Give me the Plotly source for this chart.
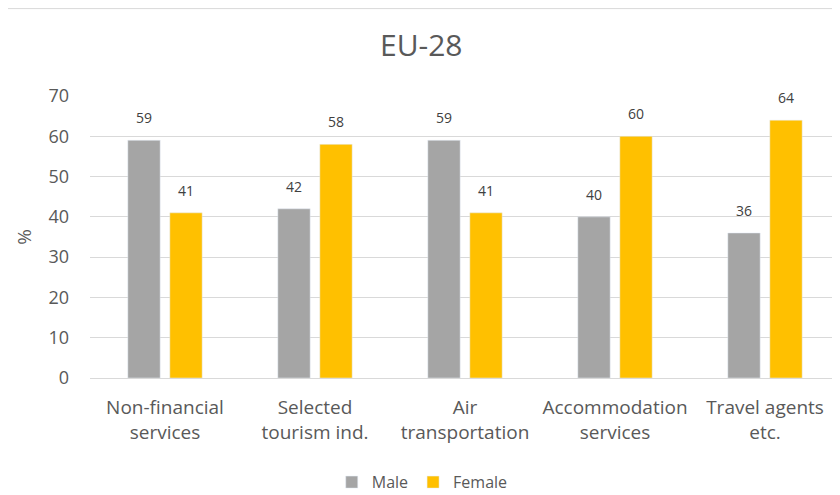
import plotly.graph_objects as go

categories = ["Non-financial<br>services", "Selected<br>tourism ind.", "Air<br>transportation",
              "Accommodation<br>services", "Travel agents<br>etc."]
male = [59, 42, 59, 40, 36]
female = [41, 58, 41, 60, 64]
y_ticks = [0, 10, 20, 30, 40, 50, 60, 70]

fig = go.Figure()
fig.add_trace(go.Bar(name="Male", x=categories, y=male, marker_color="#A5A5A5"))
fig.add_trace(go.Bar(name="Female", x=categories, y=female, marker_color="#FFC000"))

annotations = []
for series, shift in ((male, -21), (female, 21)):
    for cat, v in zip(categories, series):
        annotations.append(dict(x=cat, y=v, text=str(v), showarrow=False,
                                xshift=shift, yshift=11, yanchor="bottom",
                                font=dict(size=14, color="#404040")))

fig.update_layout(
    width=840, height=495,
    paper_bgcolor="white", plot_bgcolor="white",
    font=dict(family="Open Sans, sans-serif", color="#595959"),
    title=dict(text="EU-28", x=0.492, xanchor="center", y=0.925, yanchor="middle",
               font=dict(size=30, color="#595959")),
    margin=dict(l=82, r=8, t=88, b=125),
    barmode="group", bargap=0.44, bargroupgap=0.23,
    legend=dict(orientation="h", x=0.443, xanchor="center",
                yref="container", y=0.042, yanchor="middle",
                font=dict(size=16, color="#595959"), itemwidth=30),
    xaxis=dict(tickfont=dict(size=19, color="#595959"), showline=True, automargin=False,
               linecolor="#D9D9D9", ticks="", showgrid=False, ticklabelstandoff=12),
    yaxis=dict(range=[0, 70], tickvals=y_ticks, gridcolor="#D9D9D9", automargin=False,
               tickfont=dict(size=18, color="#595959"), zeroline=False,
               ticklabelstandoff=20,
               title=dict(text="%", font=dict(size=19, color="#595959"), standoff=11)),
    annotations=annotations,
    shapes=[dict(type="line", xref="paper", yref="paper", x0=-0.2, x1=1.1,
                 y0=1.31, y1=1.31, line=dict(color="#D9D9D9", width=1))],
)

fig.write_html("out.html")
